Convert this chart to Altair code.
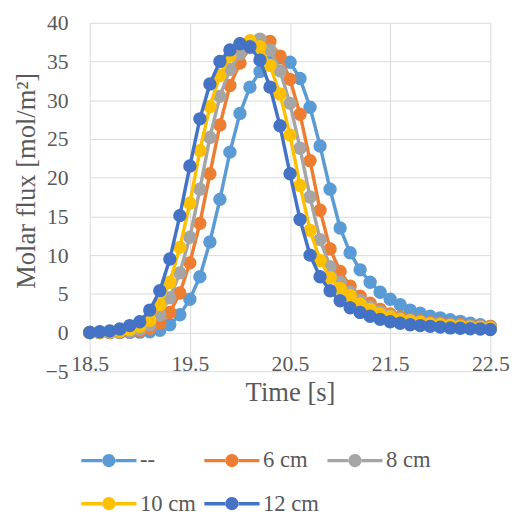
import altair as alt
import pandas as pd

# ---- data ----
times = [18.5, 18.6, 18.7, 18.8, 18.9, 19.0, 19.1, 19.2, 19.3, 19.4,
         19.5, 19.6, 19.7, 19.8, 19.9, 20.0, 20.1, 20.2, 20.3, 20.4,
         20.5, 20.6, 20.7, 20.8, 20.9, 21.0, 21.1, 21.2, 21.3, 21.4,
         21.5, 21.6, 21.7, 21.8, 21.9, 22.0, 22.1, 22.2, 22.3, 22.4,
         22.5]

series_names = ["--", "6 cm", "8 cm", "10 cm", "12 cm"]
series_colors = ["#5B9BD5", "#ED7D31", "#A5A5A5", "#FFC000", "#4472C4"]

flux_dash = [0, 0, 0, 0, 0.02, 0.05, 0.1, 0.3, 1.0, 2.3,
             4.3, 7.2, 11.7, 17.2, 23.3, 28.3, 31.7, 33.7, 35.0, 35.5,
             34.9, 32.8, 29.1, 24.1, 18.5, 13.5, 10.3, 8.1, 6.5, 5.2,
             4.3, 3.6, 2.9, 2.5, 2.1, 1.9, 1.65, 1.45, 1.2, 1.0,
             0.8]
flux_6cm = [0, 0, 0, 0.05, 0.1, 0.25, 0.55, 1.2, 2.6, 5.1,
            9.0, 14.1, 20.5, 26.8, 31.9, 34.8, 36.8, 37.8, 37.6, 35.7,
            32.7, 28.2, 22.2, 15.8, 10.8, 7.9, 6.0, 4.7, 3.8, 3.0,
            2.4, 2.0, 1.7, 1.5, 1.3, 1.2, 1.1, 1.0, 0.9, 0.85,
            0.8]
flux_8cm = [0, 0, 0.05, 0.1, 0.2, 0.45, 1.0, 2.3, 4.5, 7.7,
            12.3, 18.5, 25.2, 30.5, 34.0, 36.0, 37.4, 37.9, 36.5, 33.8,
            29.6, 23.8, 17.5, 12.0, 8.5, 6.5, 5.2, 4.1, 3.3, 2.7,
            2.2, 1.8, 1.6, 1.4, 1.2, 1.1, 1.0, 0.9, 0.8, 0.75,
            0.7]
flux_10cm = [0, 0.05, 0.1, 0.2, 0.4, 0.8, 1.6, 3.6, 6.5, 11.0,
             16.7, 23.5, 29.2, 33.2, 35.7, 37.3, 37.7, 36.9, 34.5, 30.8,
             25.5, 19.0, 13.2, 9.3, 7.1, 5.7, 4.8, 3.7, 3.0, 2.4,
             2.0, 1.7, 1.5, 1.3, 1.1, 1.0, 0.9, 0.8, 0.7, 0.65,
             0.6]
flux_12cm = [0, 0.1, 0.2, 0.45, 0.9, 1.4, 2.9, 5.4, 9.5, 15.1,
             21.5, 27.6, 32.1, 35.0, 36.5, 37.3, 36.9, 35.2, 31.7, 26.7,
             20.5, 14.6, 10.0, 7.2, 5.4, 4.1, 3.2, 2.6, 2.1, 1.7,
             1.4, 1.2, 1.0, 0.9, 0.8, 0.7, 0.6, 0.55, 0.5, 0.45,
             0.4]

x_ticks = [18.5, 19.5, 20.5, 21.5, 22.5]
y_ticks = [-5, 0, 5, 10, 15, 20, 25, 30, 35, 40]

all_series = [flux_dash, flux_6cm, flux_8cm, flux_10cm, flux_12cm]
rows = []
for name, vals in zip(series_names, all_series):
    for t, v in zip(times, vals):
        rows.append({"time": t, "flux": v, "series": name})
df = pd.DataFrame(rows)

FONT = "Liberation Serif"
TXT = "#595959"
GRID = "#D9D9D9"

color_scale = alt.Scale(domain=series_names, range=series_colors)

x_enc = alt.X(
    "time:Q",
    scale=alt.Scale(domain=[18.5, 22.5], nice=False, zero=False),
    axis=alt.Axis(
        values=x_ticks, format=".1f", title="Time [s]",
        titleFont=FONT, titleFontSize=27, titleFontWeight="normal", titleColor=TXT,
        titleY=22, titleBaseline="middle",
        labelFont=FONT, labelFontSize=22, labelColor=TXT, labelPadding=-18,
        labelFlush=False, labelOverlap=False,
        ticks=False, domain=False, grid=True, gridColor=GRID, gridWidth=1,
    ),
)
y_enc = alt.Y(
    "flux:Q",
    scale=alt.Scale(domain=[-5, 40], nice=False, zero=False),
    axis=alt.Axis(
        values=y_ticks, title="Molar flux [mol/m²]",
        titleFont=FONT, titleFontSize=27, titleFontWeight="normal", titleColor=TXT,
        titleX=-64, titleY=160, titleBaseline="middle",
        labelFont=FONT, labelFontSize=22, labelColor=TXT, labelPadding=22,
        labelFlush=False, labelOverlap=False,
        ticks=False, domain=False, grid=True, gridColor=GRID, gridWidth=1,
    ),
)

sym_path = ("M-4,-0.25H-0.9V0.25H-4Z M0.9,-0.25H4V0.25H0.9Z "
            "M-0.95,0A0.95,0.95 0 1,0 0.95,0A0.95,0.95 0 1,0 -0.95,0Z")

legend = alt.Legend(
    orient="none", legendX=8, legendY=433, direction="horizontal", columns=3,
    title=None, symbolType=sym_path, symbolSize=196, symbolStrokeWidth=0,
    symbolOpacity=1, labelFont=FONT, labelFontSize=23, labelColor=TXT,
    labelOffset=20, columnPadding=8, rowPadding=20, padding=0,
)

layers = []
for i, name in enumerate(series_names):
    base = alt.Chart(df).transform_filter(alt.datum.series == name)
    line = base.mark_line(strokeWidth=3.5, color=series_colors[i]).encode(
        x=x_enc, y=y_enc,
    )
    pts = base.mark_point(filled=True, size=185, opacity=1).encode(
        x=x_enc, y=y_enc,
        color=alt.Color("series:N", scale=color_scale, legend=legend),
    )
    layers += [line, pts]

chart = alt.layer(*layers).properties(
    width=407, height=354,
    padding={"left": 83, "top": 11, "right": 21, "bottom": 144},
    autosize=alt.AutoSizeParams(type="none"),
    background="white",
).configure_view(stroke=None)

chart.save("out.html", embed_options={"renderer": "svg", "actions": False})
